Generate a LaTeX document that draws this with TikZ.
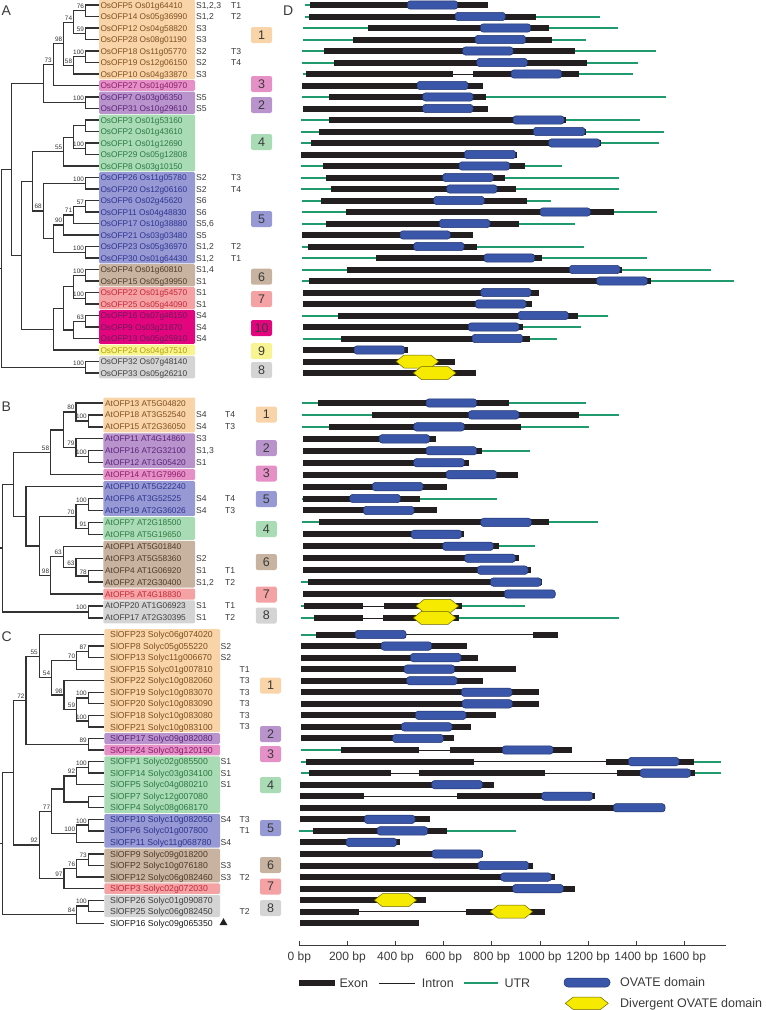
\documentclass[tikz,border=0pt]{standalone}
\usepackage{fontspec}
\setmainfont{Liberation Sans}
\usetikzlibrary{calc,shapes.geometric}
\definecolor{g1f}{HTML}{F8D4A8}\definecolor{g1t}{HTML}{7E5020}
\definecolor{g2f}{HTML}{B994CC}\definecolor{g2t}{HTML}{5B2279}
\definecolor{g3f}{HTML}{E590C6}\definecolor{g3t}{HTML}{8C1C6C}
\definecolor{g4f}{HTML}{A9DBB4}\definecolor{g4t}{HTML}{2C7A44}
\definecolor{g5f}{HTML}{9699D3}\definecolor{g5t}{HTML}{2F3490}
\definecolor{g6f}{HTML}{C7B39F}\definecolor{g6t}{HTML}{4E3A28}
\definecolor{g7f}{HTML}{F4A2A4}\definecolor{g7t}{HTML}{C4283A}
\definecolor{gXf}{HTML}{E3057E}\definecolor{gXt}{HTML}{6A1A5A}
\definecolor{g9f}{HTML}{F8F492}\definecolor{g9t}{HTML}{B0A400}
\definecolor{g8f}{HTML}{D4D4D4}\definecolor{g8t}{HTML}{404040}
\definecolor{g0t}{HTML}{1A1A1A}
\definecolor{treec}{HTML}{333333}
\definecolor{numc}{HTML}{3A3A3A}
\definecolor{utrc}{HTML}{1F9B6E}
\definecolor{exonc}{HTML}{231F20}
\definecolor{ovf}{HTML}{3A56A8}
\definecolor{ovd}{HTML}{22336E}
\definecolor{hxf}{HTML}{F5EA00}
\definecolor{hxd}{HTML}{6B6500}
\tikzset{
  tree/.style={draw=treec,line width=1.3pt},
  bs/.style={anchor=south east,inner sep=0pt,font=\fontsize{6.4}{7}\selectfont,text=treec},
  lab/.style={anchor=base west,inner sep=0pt,font=\fontsize{8.3}{9}\selectfont},
  labc/.style={anchor=base west,inner sep=0pt,font=\fontsize{8.7}{9}\selectfont},
  stl/.style={anchor=base west,inner sep=0pt,font=\fontsize{8.6}{9}\selectfont,text=numc},
  gnum/.style={minimum width=21pt,minimum height=16pt,rounded corners=2pt,inner sep=0pt,font=\fontsize{12.5}{13}\selectfont,text=numc},
  utrs/.style={draw=utrc,line width=2pt},
  intrs/.style={draw=exonc,line width=0.8pt},
  ovs/.style={fill=ovf,draw=ovd,line width=0.5pt,rounded corners=3pt},
  hxs/.style={fill=hxf,draw=hxd,line width=0.5pt},
  axl/.style={anchor=base,inner sep=0pt,font=\fontsize{12}{13}\selectfont,text=numc},
  legt/.style={anchor=base west,inner sep=0pt,font=\fontsize{12.5}{13}\selectfont,text=numc},
  pl/.style={anchor=base west,inner sep=0pt,font=\fontsize{14}{14}\selectfont,text=numc}
}
\newcommand\tn[5]{%
  \path ($(#3)!0.5!(#4)$) coordinate (m#1);
  \path (#2,0) coordinate (x#1);
  \coordinate (#1) at (x#1 |- m#1);
  \draw[tree] (#3) -| (#1) |- (#4);
  \if\relax\detokenize{#5}\relax\else
    \node[bs] (bs#1) at ([xshift=-1.4pt,yshift=1.8pt]#1) {#5};
  \fi}
\newcommand\gA[1]{\pgfmathsetmacro\yy{5+11.5*#1}}
\newcommand\gB[1]{\pgfmathsetmacro\yy{403+11.94*#1}}
\newcommand\gC[1]{\pgfmathsetmacro\yy{634.5+11.55*#1}}
\newcommand\gUtr[2]{\draw[utrs] ({#1},\yy) -- ({#2},\yy);}
\newcommand\gIn[2]{\draw[intrs] ({#1},\yy) -- ({#2},\yy);}
\newcommand\gEx[2]{\fill[exonc] ({#1},{\yy-3}) rectangle ({#2},{\yy+3});}
\newcommand\gOv[2]{\filldraw[ovs] ({#1},{\yy-4.2}) rectangle ({#2},{\yy+4.2});}
\newcommand\gHx[2]{\filldraw[hxs] ({#1},\yy) -- ({#1+8},{\yy-6.5}) -- ({#2-8},{\yy-6.5}) -- ({#2},\yy) -- ({#2-8},{\yy+6.5}) -- ({#1+8},{\yy+6.5}) -- cycle;}
\newcommand\gbox[5]{\fill[#5,rounded corners=1.2pt] (#1,#3) rectangle (#2,#4);}
\begin{document}
\begin{tikzpicture}[x=1pt,y=-1pt]
\useasboundingbox (0,0) rectangle (766,1010);
% ================= panel letters
\node[pl] (pA) at (1.5,15) {A};
\node[pl] (pB) at (1.5,411.5) {B};
\node[pl] (pC) at (1.5,641.5) {C};
\node[pl] (pD) at (283,15) {D};
% ================= PANEL A label boxes
\def\ya#1{(5+11.5*(#1))}
\gbox{99}{195}{{\ya{0}-5.3}}{{\ya{6}+5.3}}{g1f}
\gbox{99}{195}{{\ya{7}-5.3}}{{\ya{7}+5.3}}{g3f}
\gbox{99}{195}{{\ya{8}-5.3}}{{\ya{9}+5.3}}{g2f}
\gbox{99}{195}{{\ya{10}-5.3}}{{\ya{14}+5.3}}{g4f}
\gbox{99}{195}{{\ya{15}-5.3}}{{\ya{22}+5.3}}{g5f}
\gbox{99}{195}{{\ya{23}-5.3}}{{\ya{24}+5.3}}{g6f}
\gbox{99}{195}{{\ya{25}-5.3}}{{\ya{26}+5.3}}{g7f}
\gbox{99}{195}{{\ya{27}-5.3}}{{\ya{29}+5.3}}{gXf}
\gbox{99}{195}{{\ya{30}-5.3}}{{\ya{30}+5.3}}{g9f}
\gbox{99}{195}{{\ya{31}-5.3}}{{\ya{32}+5.3}}{g8f}
\foreach \i/\lab/\c/\vs/\vt in {
0/{OsOFP5 Os01g64410}/g1t/{S1,2,3}/T1,
1/{OsOFP14 Os05g36990}/g1t/{S1,2}/T2,
2/{OsOFP12 Os04g58820}/g1t/S3/{},
3/{OsOFP28 Os08g01190}/g1t/S3/{},
4/{OsOFP18 Os11g05770}/g1t/S2/T3,
5/{OsOFP19 Os12g06150}/g1t/S2/T4,
6/{OsOFP10 Os04g33870}/g1t/S3/{},
7/{OsOFP27 Os01g40970}/g3t/{}/{},
8/{OsOFP7 Os03g06350}/g2t/S5/{},
9/{OsOFP31 Os10g29610}/g2t/S5/{},
10/{OsOFP3 Os01g53160}/g4t/{}/{},
11/{OsOFP2 Os01g43610}/g4t/{}/{},
12/{OsOFP1 Os01g12690}/g4t/{}/{},
13/{OsOFP29 Os05g12808}/g4t/{}/{},
14/{OsOFP8 Os03g10150}/g4t/{}/{},
15/{OsOFP26 Os11g05780}/g5t/S2/T3,
16/{OsOFP20 Os12g06160}/g5t/S2/T4,
17/{OsOFP6 Os02g45620}/g5t/S6/{},
18/{OsOFP11 Os04g48830}/g5t/S6/{},
19/{OsOFP17 Os10g38880}/g5t/{S5,6}/{},
20/{OsOFP21 Os03g03480}/g5t/S5/{},
21/{OsOFP23 Os05g36970}/g5t/{S1,2}/T2,
22/{OsOFP30 Os01g64430}/g5t/{S1,2}/T1,
23/{OsOFP4 Os01g60810}/g6t/{S1,4}/{},
24/{OsOFP15 Os05g39950}/g6t/S1/{},
25/{OsOFP22 Os01g54570}/g7t/S1/{},
26/{OsOFP25 Os05g44090}/g7t/S1/{},
27/{OsOFP16 Os07g46150}/gXt/S4/{},
28/{OsOFP9 Os03g21870}/gXt/S4/{},
29/{OsOFP13 Os05g25910}/gXt/S4/{},
30/{OsOFP24 Os04g37510}/g9t/{}/{},
31/{OsOFP32 Os07g48140}/g8t/{}/{},
32/{OsOFP33 Os05g26210}/g8t/{}/{}}{
  \coordinate (A\i) at (99,{5+11.5*\i});
  \node[lab,text=\c] (LA\i) at (100.3,{5+11.5*\i+3}) {\lab};
  \node[stl] (SA\i) at (196,{5+11.5*\i+3}) {\vs};
  \node[stl] (TA\i) at (231,{5+11.5*\i+3}) {\vt};
}
\node[gnum,fill=g1f] (NA1) at (261.5,35) {1};
\node[gnum,fill=g3f] (NA3) at (261.5,84) {3};
\node[gnum,fill=g2f] (NA2) at (261.5,105) {2};
\node[gnum,fill=g4f] (NA4) at (261.5,142) {4};
\node[gnum,fill=g5f] (NA5) at (261.5,219) {5};
\node[gnum,fill=g6f] (NA6) at (261.5,276.7) {6};
\node[gnum,fill=g7f] (NA7) at (261.5,299) {7};
\node[gnum,fill=gXf] (NA10) at (261.5,328) {10};
\node[gnum,fill=g9f] (NA9) at (261.5,351) {9};
\node[gnum,fill=g8f] (NA8) at (261.5,370) {8};
% tree A
\tn{a01}{85.5}{A0}{A1}{76}
\tn{a23}{85.5}{A2}{A3}{59}
\tn{a0123}{73.7}{a01}{a23}{74}
\tn{a45}{85.5}{A4}{A5}{100}
\tn{a456}{73.7}{a45}{A6}{58}
\tn{a98}{63.8}{a0123}{a456}{98}
\tn{a73}{53.3}{a98}{A7}{73}
\tn{a89}{85.5}{A8}{A9}{100}
\tn{aA1}{43.3}{a73}{a89}{}
\tn{a1011}{85.5}{A10}{A11}{}
\tn{a1213}{85.5}{A12}{A13}{100}
\tn{ag4}{73.7}{a1011}{a1213}{}
\tn{a55}{63.8}{ag4}{A14}{55}
\tn{a1516}{85.5}{A15}{A16}{100}
\tn{a57}{85.5}{A17}{A18}{57}
\tn{a71}{73.7}{a57}{A19}{71}
\tn{a90}{63.8}{a71}{A20}{90}
\tn{a2122}{85.5}{A21}{A22}{100}
\tn{aq}{53.3}{a90}{a2122}{}
\tn{a68}{43.3}{a1516}{aq}{68}
\tn{aD}{32.3}{a55}{a68}{}
\tn{a2324}{85.5}{A23}{A24}{100}
\tn{a2526}{85.5}{A25}{A26}{100}
\tn{a2326}{73.7}{a2324}{a2526}{}
\tn{a63}{85.5}{A27}{A28}{63}
\tn{a2729}{73.7}{a63}{A29}{}
\tn{a6x}{63.8}{a2326}{a2729}{}
\tn{a5x}{53.3}{a6x}{A30}{}
\tn{aE}{21.7}{aD}{a5x}{}
\tn{aB}{11.7}{aA1}{aE}{}
\tn{a3132}{85.5}{A31}{A32}{100}
\tn{aR}{1.7}{aB}{a3132}{}
\draw[tree] (aR) -- ++(-1.7,0);
% ================= PANEL B
\def\yb#1{(403+11.94*(#1))}
\gbox{103.3}{195}{{\yb{0}-5.5}}{{\yb{2}+5.5}}{g1f}
\gbox{103.3}{195}{{\yb{3}-5.5}}{{\yb{5}+5.5}}{g2f}
\gbox{103.3}{195}{{\yb{6}-5.5}}{{\yb{6}+5.5}}{g3f}
\gbox{103.3}{195}{{\yb{7}-5.5}}{{\yb{9}+5.5}}{g5f}
\gbox{103.3}{195}{{\yb{10}-5.5}}{{\yb{11}+5.5}}{g4f}
\gbox{103.3}{195}{{\yb{12}-5.5}}{{\yb{15}+5.5}}{g6f}
\gbox{103.3}{195}{{\yb{16}-5.5}}{{\yb{16}+5.5}}{g7f}
\gbox{103.3}{195}{{\yb{17}-5.5}}{{\yb{18}+5.5}}{g8f}
\foreach \i/\lab/\c/\vs/\vt in {
0/{AtOFP13 AT5G04820}/g1t/{}/{},
1/{AtOFP18 AT3G52540}/g1t/S4/T4,
2/{AtOFP15 AT2G36050}/g1t/S4/T3,
3/{AtOFP11 AT4G14860}/g2t/S3/{},
4/{AtOFP16 AT2G32100}/g2t/{S1,3}/{},
5/{AtOFP12 AT1G05420}/g2t/S1/{},
6/{AtOFP14 AT1G79960}/g3t/{}/{},
7/{AtOFP10 AT5G22240}/g5t/{}/{},
8/{AtOFP6 AT3G52525}/g5t/S4/T4,
9/{AtOFP19 AT2G36026}/g5t/S4/T3,
10/{AtOFP7 AT2G18500}/g4t/{}/{},
11/{AtOFP8 AT5G19650}/g4t/{}/{},
12/{AtOFP1 AT5G01840}/g6t/{}/{},
13/{AtOFP3 AT5G58360}/g6t/S2/{},
14/{AtOFP4 AT1G06920}/g6t/S1/T1,
15/{AtOFP2 AT2G30400}/g6t/{S1,2}/T2,
16/{AtOFP5 AT4G18830}/g7t/{}/{},
17/{AtOFP20 AT1G06923}/g8t/S1/T1,
18/{AtOFP17 AT2G30395}/g8t/S1/T2}{
  \coordinate (B\i) at (103.3,{403+11.94*\i});
  \node[lab,text=\c] (LB\i) at (105,{403+11.94*\i+3}) {\lab};
  \node[stl] (SB\i) at (196,{403+11.94*\i+3}) {\vs};
  \node[stl] (TB\i) at (225,{403+11.94*\i+3}) {\vt};
}
\node[gnum,fill=g1f] (NB1) at (266.3,414.5) {1};
\node[gnum,fill=g2f] (NB2) at (266.3,448) {2};
\node[gnum,fill=g3f] (NB3) at (266.3,473.5) {3};
\node[gnum,fill=g5f] (NB5) at (266.3,499) {5};
\node[gnum,fill=g4f] (NB4) at (266.3,529) {4};
\node[gnum,fill=g6f] (NB6) at (266.3,562) {6};
\node[gnum,fill=g7f] (NB7) at (266.3,594.5) {7};
\node[gnum,fill=g8f] (NB8) at (266.3,615.5) {8};
\tn{b12}{88.3}{B1}{B2}{100}
\tn{b80}{76}{B0}{b12}{80}
\tn{b45}{88.3}{B4}{B5}{100}
\tn{b79}{76}{B3}{b45}{79}
\tn{b8079}{63.3}{b80}{b79}{}
\tn{b58}{50.7}{b8079}{B6}{58}
\tn{b89}{88.3}{B8}{B9}{100}
\tn{b1011}{88.3}{B10}{B11}{91}
\tn{b70}{76}{b89}{b1011}{70}
\tn{b78}{88.3}{B14}{B15}{78}
\tn{b63b}{76}{B13}{b78}{63}
\tn{b63a}{63.3}{B12}{b63b}{63}
\tn{b98}{50.7}{b63a}{B16}{98}
\tn{bZ}{39.3}{b70}{b98}{}
\tn{bY}{26}{B7}{bZ}{}
\tn{bB1}{13.3}{b58}{bY}{}
\tn{b1718}{88.3}{B17}{B18}{100}
\tn{bR}{2.7}{bB1}{b1718}{}
\draw[tree] (bR) -- ++(-2.7,0);
% ================= PANEL C
\def\yc#1{(634.5+11.55*(#1))}
\gbox{104.3}{220}{{\yc{0}-5.3}}{{\yc{8}+5.3}}{g1f}
\gbox{104.3}{220}{{\yc{9}-5.3}}{{\yc{9}+5.3}}{g2f}
\gbox{104.3}{220}{{\yc{10}-5.3}}{{\yc{10}+5.3}}{g3f}
\gbox{104.3}{220}{{\yc{11}-5.3}}{{\yc{15}+5.3}}{g4f}
\gbox{104.3}{220}{{\yc{16}-5.3}}{{\yc{18}+5.3}}{g5f}
\gbox{104.3}{220}{{\yc{19}-5.3}}{{\yc{21}+5.3}}{g6f}
\gbox{104.3}{220}{{\yc{22}-5.3}}{{\yc{22}+5.3}}{g7f}
\gbox{104.3}{220}{{\yc{23}-5.3}}{{\yc{24}+5.3}}{g8f}
\foreach \i/\lab/\c/\vs/\vt in {
0/{SlOFP23 Solyc06g074020}/g1t/{}/{},
1/{SlOFP8 Solyc05g055220}/g1t/S2/{},
2/{SlOFP13 Solyc11g006670}/g1t/S2/{},
3/{SlOFP15 Solyc01g007810}/g1t/{}/T1,
4/{SlOFP22 Solyc10g082060}/g1t/{}/T3,
5/{SlOFP19 Solyc10g083070}/g1t/{}/T3,
6/{SlOFP20 Solyc10g083090}/g1t/{}/T3,
7/{SlOFP18 Solyc10g083080}/g1t/{}/T3,
8/{SlOFP21 Solyc10g083100}/g1t/{}/T3,
9/{SlOFP17 Solyc09g082080}/g2t/{}/{},
10/{SlOFP24 Solyc03g120190}/g3t/{}/{},
11/{SlOFP1 Solyc02g085500}/g4t/S1/{},
12/{SlOFP14 Solyc03g034100}/g4t/S1/{},
13/{SlOFP5 Solyc04g080210}/g4t/S1/{},
14/{SlOFP7 Solyc12g007080}/g4t/{}/{},
15/{SlOFP4 Solyc08g068170}/g4t/{}/{},
16/{SlOFP10 Solyc10g082050}/g5t/S4/T3,
17/{SlOFP6 Solyc01g007800}/g5t/{}/T1,
18/{SlOFP11 Solyc11g068780}/g5t/S4/{},
19/{SlOFP9 Solyc09g018200}/g6t/{}/{},
20/{SlOFP2 Solyc10g076180}/g6t/S3/{},
21/{SlOFP12 Solyc06g082460}/g6t/S3/T2,
22/{SlOFP3 Solyc02g072030}/g7t/{}/{},
23/{SlOFP26 Solyc01g090870}/g8t/{}/{},
24/{SlOFP25 Solyc06g082450}/g8t/{}/T2,
25/{SlOFP16 Solyc09g065350}/g0t/{}/{}}{
  \coordinate (C\i) at (104,{634.5+11.55*\i});
  \node[labc,text=\c] (LC\i) at (110,{634.5+11.55*\i+3.1}) {\lab};
  \node[stl] (SC\i) at (220.5,{634.5+11.55*\i+3}) {\vs};
  \node[stl] (TC\i) at (239.3,{634.5+11.55*\i+3}) {\vt};
}
\node[fill=exonc,regular polygon,regular polygon sides=3,inner sep=1.6pt] (triC) at (223.5,{634.5+11.55*25-0.5}) {};
\node[gnum,fill=g1f] (NC1) at (270.5,685.5) {1};
\node[gnum,fill=g2f] (NC2) at (270.5,734) {2};
\node[gnum,fill=g3f] (NC3) at (270.5,754) {3};
\node[gnum,fill=g4f] (NC4) at (270.5,785) {4};
\node[gnum,fill=g5f] (NC5) at (270.5,828) {5};
\node[gnum,fill=g6f] (NC6) at (270.5,865) {6};
\node[gnum,fill=g7f] (NC7) at (270.5,886.5) {7};
\node[gnum,fill=g8f] (NC8) at (270.5,908) {8};
\tn{c12}{88.3}{C1}{C2}{87}
\tn{c70}{76.7}{c12}{C3}{70}
\tn{c56}{88.3}{C5}{C6}{100}
\tn{c78}{88.3}{C7}{C8}{100}
\tn{c59}{76.7}{c56}{c78}{59}
\tn{c98}{64}{C4}{c59}{98}
\tn{c54}{51.7}{c70}{c98}{54}
\tn{c55}{39.3}{C0}{c54}{55}
\tn{c910}{88.3}{C9}{C10}{89}
\tn{c72}{26}{c55}{c910}{72}
\tn{c1112}{88.3}{C11}{C12}{100}
\tn{c92a}{76.7}{c1112}{C13}{92}
\tn{c1415}{88.3}{C14}{C15}{}
\tn{c64}{64}{c92a}{c1415}{}
\tn{c1617}{88.3}{C16}{C17}{100}
\tn{c100b}{76.7}{c1617}{C18}{100}
\tn{c77}{51.7}{c64}{c100b}{77}
\tn{c73}{88.3}{C19}{C20}{73}
\tn{c76}{76.7}{c73}{C21}{76}
\tn{c97}{64}{c76}{C22}{97}
\tn{c92b}{39.3}{c77}{c97}{92}
\tn{cL}{13.3}{c72}{c92b}{}
\tn{c2324}{88.3}{C23}{C24}{100}
\tn{c84}{76.7}{c2324}{C25}{84}
\tn{cR}{2.7}{cL}{c84}{}
\draw[tree] (cR) -- ++(-2.7,0);
% ================= PANEL D gene structures
\gA{0}\gUtr{305}{310}\gEx{310}{488.3}\gOv{407.3}{457.7}
\gA{1}\gUtr{305}{309.3}\gUtr{536}{600}\gEx{309.3}{536}\gOv{455}{505.3}
\gA{2}\gUtr{303.3}{367.7}\gUtr{548.7}{617.7}\gEx{367.7}{548.7}\gOv{480.3}{530.7}
\gA{3}\gUtr{303.3}{353.3}\gUtr{552.3}{585.7}\gEx{353.3}{552.3}\gOv{475}{525.7}
\gA{4}\gUtr{302}{324.3}\gUtr{575.3}{656}\gEx{324.3}{575.3}\gOv{462.7}{513}
\gA{5}\gUtr{302}{334}\gUtr{586.7}{637.7}\gEx{334}{586.7}\gOv{476.7}{527.3}
\gA{6}\gUtr{302.7}{306}\gUtr{578.7}{632.7}\gIn{452.7}{472.7}\gEx{306}{452.7}\gEx{472.7}{578.7}\gOv{511}{561.7}
\gA{7}\gEx{302}{483.3}\gOv{417}{468}
\gA{8}\gUtr{302}{329.3}\gUtr{485.7}{666.3}\gEx{329.3}{485.7}\gOv{422.7}{473}
\gA{9}\gEx{302.7}{488.3}\gOv{422.7}{473}
\gA{10}\gUtr{301.3}{328.7}\gUtr{565.7}{640}\gEx{328.7}{565.7}\gOv{513}{564}
\gA{11}\gUtr{301.3}{319}\gUtr{585.7}{664}\gEx{319}{585.7}\gOv{533.3}{585}
\gA{12}\gUtr{300.7}{311.3}\gUtr{600.7}{658.7}\gEx{311.3}{600.7}\gOv{548.7}{600}
\gA{13}\gEx{301}{517}\gOv{464.3}{515.7}
\gA{14}\gUtr{301.3}{323.3}\gUtr{524.7}{562}\gEx{323.3}{524.7}\gOv{459}{509.7}
\gA{15}\gUtr{301.3}{326.3}\gUtr{505.3}{619.3}\gEx{326.3}{505.3}\gOv{442.7}{493.3}
\gA{16}\gUtr{301.3}{331.3}\gUtr{516}{619.3}\gEx{331.3}{516}\gOv{446.7}{497}
\gA{17}\gUtr{302}{321.3}\gUtr{527}{551}\gEx{321.3}{527}\gOv{433.7}{484.3}
\gA{18}\gUtr{302}{346}\gUtr{614.3}{656.7}\gEx{346}{614.3}\gOv{540}{590.3}
\gA{19}\gUtr{302}{326.3}\gUtr{518.7}{575.3}\gEx{326.3}{518.7}\gOv{439.3}{490}
\gA{20}\gEx{302}{473.3}\gOv{400}{450.3}
\gA{21}\gUtr{302}{308}\gUtr{476.7}{584}\gEx{308}{476.7}\gOv{413.7}{464}
\gA{22}\gUtr{302}{375.7}\gUtr{542}{646.7}\gEx{375.7}{542}\gOv{484}{534.7}
\gA{23}\gUtr{302}{347.3}\gUtr{622.3}{711.3}\gEx{347.3}{622.3}\gOv{569.3}{620}
\gA{24}\gUtr{302}{309}\gUtr{651.3}{734}\gEx{309}{651.3}\gOv{596.7}{647.3}
\gA{25}\gEx{302.7}{538.7}\gOv{480.7}{531}
\gA{26}\gEx{302.7}{532.3}\gOv{475.3}{526}
\gA{27}\gUtr{302}{338.3}\gUtr{578.3}{608.3}\gEx{338.3}{578.3}\gOv{518}{568.3}
\gA{28}\gUtr{522.7}{581}\gEx{302.7}{522.7}\gOv{468.3}{519}
\gA{29}\gUtr{302.7}{341.3}\gUtr{530}{557.3}\gEx{341.3}{530}\gOv{472}{522.7}
\gA{30}\gEx{302.7}{407.7}\gOv{354}{404.7}
\gA{31}\gEx{302.7}{455.3}\gHx{396}{438.7}
\gA{32}\gEx{302.7}{476}\gHx{413.3}{456}
%
\gB{0}\gUtr{302}{318.3}\gUtr{509.3}{585.7}\gEx{318.3}{509.3}\gOv{426}{476.7}
\gB{1}\gUtr{302}{371.7}\gUtr{578.7}{619}\gEx{371.7}{578.7}\gOv{468.3}{519}
\gB{2}\gUtr{302}{329.3}\gUtr{521.3}{589}\gEx{329.3}{521.3}\gOv{413.7}{464.3}
\gB{3}\gEx{303.3}{436.3}\gOv{379}{429.7}
\gB{4}\gUtr{481.7}{529.7}\gEx{303.3}{481.7}\gOv{426}{476.7}
\gB{5}\gEx{303.3}{468.7}\gOv{413.7}{464.3}
\gB{6}\gEx{303.3}{517.7}\gOv{446}{496.7}
\gB{7}\gEx{303.3}{447}\gOv{372.3}{423}
\gB{8}\gUtr{302}{303.3}\gUtr{420}{497.3}\gEx{303.3}{420}\gOv{349.7}{400.3}
\gB{9}\gEx{303.3}{436.7}\gOv{363.3}{414}
\gB{10}\gUtr{302}{319.3}\gUtr{549.3}{597.7}\gEx{319.3}{549.3}\gOv{480.7}{531.3}
\gB{11}\gEx{302.7}{464.3}\gOv{411}{461.7}
\gB{12}\gUtr{498.7}{535}\gEx{302.7}{498.7}\gOv{442.7}{493.3}
\gB{13}\gEx{302.7}{518.7}\gOv{464.7}{515.3}
\gB{14}\gEx{302.7}{531}\gOv{477.3}{528}
\gB{15}\gUtr{301.3}{308.3}\gEx{308.3}{541.7}\gOv{490.3}{541.3}
\gB{16}\gEx{302.7}{555.3}\gOv{504.3}{555.3}
\gB{17}\gUtr{301.3}{304}\gUtr{462.3}{524.7}\gIn{363.3}{384.3}\gEx{304}{363.3}\gEx{384.3}{462.3}\gHx{416}{458.7}
\gB{18}\gUtr{301.3}{314}\gUtr{459}{619.3}\gIn{362.7}{383}\gEx{314}{362.7}\gEx{383}{459}\gHx{413.3}{456}
%
\gC{0}\gUtr{301.3}{316}\gIn{406}{533.3}\gEx{316}{406}\gEx{533.3}{557.7}\gOv{355}{406}
\gC{1}\gEx{300.7}{467}\gOv{381}{431.7}
\gC{2}\gEx{300.7}{478}\gOv{410.3}{461}
\gC{3}\gEx{300.7}{516.3}\gOv{404}{454.7}
\gC{4}\gEx{300.7}{483.3}\gOv{406.7}{457}
\gC{5}\gEx{300.7}{539.3}\gOv{461.3}{512}
\gC{6}\gEx{300.7}{539.3}\gOv{462}{512.3}
\gC{7}\gEx{300.7}{496}\gOv{415.3}{466}
\gC{8}\gEx{300.7}{470.7}\gOv{401.3}{452}
\gC{9}\gEx{300.7}{453.7}\gOv{392.7}{443.3}
\gC{10}\gUtr{301.3}{341.3}\gIn{419.3}{450.3}\gEx{341.3}{419.3}\gEx{450.3}{572.3}\gOv{502.3}{553}
\gC{11}\gUtr{301.3}{306}\gUtr{694}{720.7}\gIn{474}{605.7}\gEx{306}{474}\gEx{605.7}{694}\gOv{628.3}{679}
\gC{12}\gUtr{301.3}{309.3}\gUtr{695.3}{720.7}\gIn{390.7}{419.3}\gIn{545}{617}\gEx{309.3}{390.7}\gEx{419.3}{545}\gEx{617}{695.3}\gOv{640}{690.7}
\gC{13}\gEx{300}{493.7}\gOv{431.7}{482.3}
\gC{14}\gIn{364.3}{456.7}\gEx{300}{364.3}\gEx{456.7}{595.3}\gOv{541.7}{592.7}
\gC{15}\gEx{300}{665}\gOv{613.3}{665}
\gC{16}\gEx{300}{430.3}\gOv{364.3}{415}
\gC{17}\gUtr{299.3}{313.3}\gUtr{446.7}{515.7}\gEx{313.3}{446.7}\gOv{377}{427.7}
\gC{18}\gEx{300}{399.7}\gOv{346}{396.7}
\gC{19}\gEx{300}{483.3}\gOv{432}{482.7}
\gC{20}\gEx{300}{533.3}\gOv{478}{528.7}
\gC{21}\gEx{300}{555.3}\gOv{500.7}{551.3}
\gC{22}\gEx{300}{574.7}\gOv{512.7}{563.3}
\gC{23}\gEx{300}{426.3}\gHx{374.3}{416.7}
\gC{24}\gIn{359}{466}\gEx{300}{359}\gEx{466}{545}\gHx{490}{532.7}
\gC{25}\gEx{300}{418.7}
% ================= axis
\coordinate (ax0) at (299.3,945);
\coordinate (ax1) at (726,945);
\draw[draw=numc,line width=0.8pt] (ax0) -- (ax1);
\foreach \v in {0,200,400,600,800,1000,1200,1400,1600}{
  \draw[draw=numc,line width=0.8pt] ({299.3+0.2406*\v},941) -- ({299.3+0.2406*\v},945);
  \node[axl] (tk\v) at ({299.3+0.2406*\v},960) {\v{} bp};
}
% ================= legend
\fill[exonc] (299.3,980) rectangle (335.3,986);
\node[legt] (lgEx) at (339.3,987.3) {Exon};
\draw[intrs] (379.3,983) -- (415,983);
\node[legt] (lgIn) at (421.7,987.3) {Intron};
\draw[utrs] (464.3,983) -- (498.3,983);
\node[legt] (lgUtr) at (504.3,987.3) {UTR};
\filldraw[ovs,rounded corners=4pt] (564,978) rectangle (610,987);
\node[legt] (lgOv) at (620,986.5) {OVATE domain};
\filldraw[hxs] (565.3,1003.3) -- (573.3,997) -- (600.3,997) -- (608.3,1003.3) -- (600.3,1009.6) -- (573.3,1009.6) -- cycle;
\node[legt] (lgHx) at (620,1007) {Divergent OVATE domain};
\end{tikzpicture}
\end{document}
